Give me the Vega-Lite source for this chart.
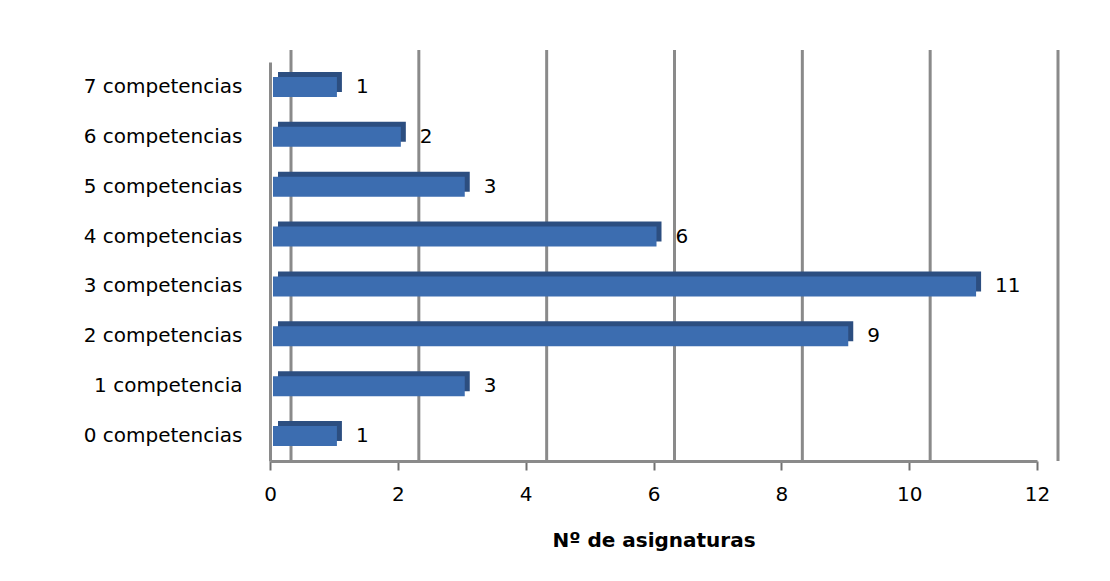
{
  "$schema": "https://vega.github.io/schema/vega-lite/v6.json",
  "autosize": "none",
  "width": 767,
  "height": 399,
  "padding": {"left": 270, "top": 62, "right": 73, "bottom": 120},
  "background": "white",
  "config": {
    "view": {"stroke": null},
    "font": "DejaVu Sans"
  },
  "datasets": {
    "bars": [
      {"cat": "7 competencias", "n": 1},
      {"cat": "6 competencias", "n": 2},
      {"cat": "5 competencias", "n": 3},
      {"cat": "4 competencias", "n": 6},
      {"cat": "3 competencias", "n": 11},
      {"cat": "2 competencias", "n": 9},
      {"cat": "1 competencia", "n": 3},
      {"cat": "0 competencias", "n": 1}
    ],
    "grid": [{"g": 0}, {"g": 2}, {"g": 4}, {"g": 6}, {"g": 8}, {"g": 10}, {"g": 12}]
  },
  "layer": [
    {
      "data": {"name": "grid"},
      "mark": {"type": "rule", "color": "#8a8a8a", "strokeWidth": 3, "xOffset": 21, "yOffset": -12},
      "encoding": {
        "x": {"field": "g", "type": "quantitative", "scale": {"domain": [0, 12]}}
      }
    },
    {
      "data": {"name": "bars"},
      "mark": {"type": "bar", "color": "#2C4E80", "xOffset": 8, "yOffset": -5},
      "encoding": {
        "y": {"field": "cat", "type": "nominal", "sort": null},
        "x": {"field": "n", "type": "quantitative"}
      }
    },
    {
      "data": {"name": "bars"},
      "mark": {"type": "bar", "color": "#3C6DB0", "xOffset": 3},
      "encoding": {
        "y": {
          "field": "cat", "type": "nominal", "sort": null,
          "scale": {"paddingInner": 0.6, "paddingOuter": 0.3},
          "axis": {
            "title": null,
            "ticks": false,
            "domainColor": "#8a8a8a",
            "domainWidth": 3,
            "labelFontSize": 20,
            "labelColor": "#000000",
            "labelPadding": 28,
            "labelFont": "DejaVu Sans"
          }
        },
        "x": {
          "field": "n", "type": "quantitative",
          "scale": {"domain": [0, 12]},
          "axis": {
            "title": "Nº de asignaturas",
            "values": [0, 2, 4, 6, 8, 10, 12],
            "format": "d",
            "labelFlush": false,
            "grid": false,
            "domainColor": "#8a8a8a",
            "domainWidth": 3,
            "tickColor": "#707070",
            "tickWidth": 2,
            "tickSize": 9,
            "labelFontSize": 20,
            "labelColor": "#000000",
            "labelPadding": 14,
            "titleFontSize": 20,
            "titleFontWeight": "bold",
            "titleColor": "#000000",
            "titlePadding": 26
          }
        }
      }
    },
    {
      "data": {"name": "bars"},
      "mark": {"type": "text", "align": "left", "baseline": "middle", "dx": 22, "fontSize": 20, "color": "#000000"},
      "encoding": {
        "y": {"field": "cat", "type": "nominal", "sort": null},
        "x": {"field": "n", "type": "quantitative"},
        "text": {"field": "n", "type": "quantitative"}
      }
    }
  ]
}
